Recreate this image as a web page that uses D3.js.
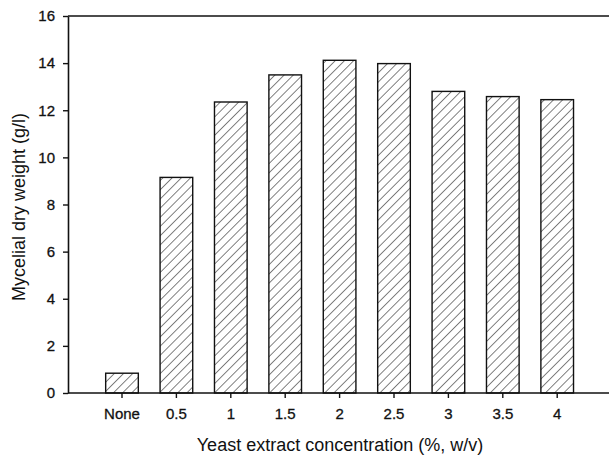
<!DOCTYPE html>
<html>
<head>
<meta charset="utf-8">
<script src="https://cdn.jsdelivr.net/npm/d3@7"></script>
<style>
body { margin: 0; background: #fff; }
text { font-family: "Liberation Sans", Arial, sans-serif; fill: #111; }
</style>
</head>
<body>
<svg id="chart" width="609" height="457"></svg>
<script>
// concentrations on the x axis
var categories = ["None", "0.5", "1", "1.5", "2", "2.5", "3", "3.5", "4"];
// mycelial dry weight (g/l)
var dryWeight = [0.84, 9.15, 12.35, 13.5, 14.12, 13.98, 12.8, 12.58, 12.45];
var yTicks = [0, 2, 4, 6, 8, 10, 12, 14, 16];

var svg = d3.select("#chart"),
	plotLeft = 68, plotRight = 612, plotTop = 16, plotBottom = 393;

var step = 54.4; // distance between category centres
var x = d3.scaleBand()
	.domain(categories)
	.range([122 - step / 2, 122 + step * (categories.length - 0.5)])
	.paddingInner(0.4)
	.paddingOuter(0.2);

var y = d3.scaleLinear()
	.domain([0, 16])
	.range([plotBottom, plotTop]);

// diagonal hatch
var pat = svg.append("defs").append("pattern")
	.attr("id", "hatch")
	.attr("patternUnits", "userSpaceOnUse")
	.attr("width", 6.5).attr("height", 6.5)
	.attr("patternTransform", "rotate(45)");
pat.append("rect").attr("width", 6.5).attr("height", 6.5).attr("fill", "#fff");
pat.append("line")
	.attr("x1", 0).attr("y1", 0).attr("x2", 0).attr("y2", 6.5)
	.attr("stroke", "#1a1a1a").attr("stroke-width", 1.1);

var data = categories.map((c, i) => ({cat: c, val: dryWeight[i]}));

svg.selectAll(".bar")
	.data(data)
	.enter().append("rect")
	.attr("class", "bar")
	.attr("x", d => x(d.cat))
	.attr("width", x.bandwidth())
	.attr("y", d => y(d.val))
	.attr("height", d => y(0) - y(d.val))
	.attr("fill", "url(#hatch)")
	.attr("stroke", "#111")
	.attr("stroke-width", 1.4);

// y axis
var yAxis = svg.append("g")
	.attr("transform", "translate(" + plotLeft + ",0)")
	.call(d3.axisLeft(y).tickValues(yTicks).tickSize(5).tickPadding(8).tickSizeOuter(0));
yAxis.select(".domain").attr("stroke", "#111").attr("stroke-width", 1.6);
yAxis.selectAll("line").attr("stroke", "#111").attr("stroke-width", 1.4);
yAxis.selectAll("text")
	.attr("font-size", 15)
	.attr("font-family", "Liberation Sans, Arial, sans-serif")
	.attr("stroke", "#111").attr("stroke-width", 0.3);

// x axis
var xAxis = svg.append("g")
	.attr("transform", "translate(0," + plotBottom + ")")
	.call(d3.axisBottom(x).tickSize(5).tickPadding(10).tickSizeOuter(0));
xAxis.select(".domain").remove();
xAxis.selectAll("line").attr("stroke", "#111").attr("stroke-width", 1.4);
xAxis.selectAll("text")
	.attr("font-size", 15)
	.attr("font-family", "Liberation Sans, Arial, sans-serif")
	.attr("stroke", "#111").attr("stroke-width", 0.3);

svg.append("line")
	.attr("x1", plotLeft).attr("x2", plotRight)
	.attr("y1", plotBottom).attr("y2", plotBottom)
	.attr("stroke", "#111").attr("stroke-width", 1.6);

// top frame
svg.append("line")
	.attr("x1", plotLeft).attr("x2", plotRight)
	.attr("y1", plotTop).attr("y2", plotTop)
	.attr("stroke", "#111").attr("stroke-width", 1.4);

svg.append("text")
	.attr("x", 340).attr("y", 451)
	.attr("text-anchor", "middle")
	.attr("font-size", 18)
	.text("Yeast extract concentration (%, w/v)");

svg.append("text")
	.attr("transform", "translate(25," + 207 + ") rotate(-90)")
	.attr("text-anchor", "middle")
	.attr("font-size", 18)
	.text("Mycelial dry weight (g/l)");
</script>
</body>
</html>
